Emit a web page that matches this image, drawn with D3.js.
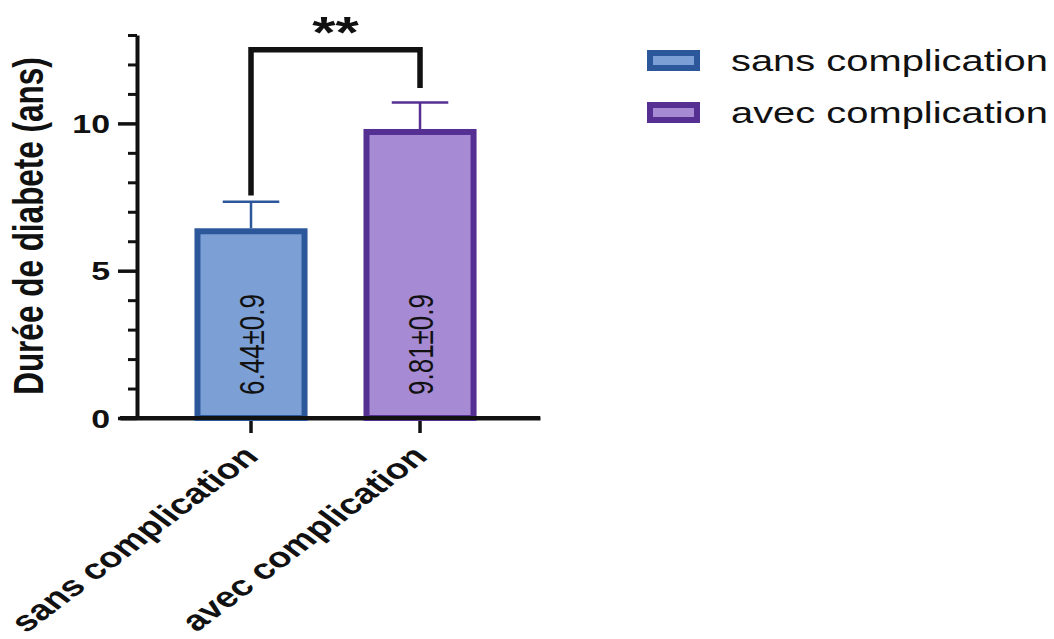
<!DOCTYPE html>
<html>
<head>
<meta charset="utf-8">
<script src="https://cdn.jsdelivr.net/npm/d3@7/dist/d3.min.js"></script>
<style>
  html, body { margin: 0; padding: 0; background: #ffffff; }
  svg { display: block; }
  text { font-family: "Liberation Sans", Arial, Helvetica, sans-serif; fill: #111; }
</style>
</head>
<body>
<svg id="chart" width="1054" height="639"></svg>
<script>
// Data
const categories = ["sans complication", "avec complication"];
const means = [6.44, 9.81];
const errors = [0.9, 0.9];
const valueLabels = ["6.44±0.9", "9.81±0.9"];
const fillColors = ["#7ca0d6", "#a68ad3"];
const strokeColors = ["#2c589b", "#552f91"];
const yMajorTicks = [0, 5, 10];
const yMinorTicks = [1, 2, 3, 4, 6, 7, 8, 9, 11, 12, 13];
const yLabel = "Durée de diabete (ans)";
const significance = "**";
// Bracket levels (in years): left leg end, right leg end, top bar
const bracketLevels = [7.55, 11.2, 12.5];

// Text is drawn wide (horizontal stretch) to follow the figure's aspect
const SX = 1.33;

const svg = d3.select("#chart");

const y = d3.scaleLinear().domain([0, 13]).range([418, 35]);
const x = d3.scaleBand()
  .domain(categories)
  .range([120, 540])
  .paddingInner(0.331)
  .paddingOuter(0.408)
  .align(0.54);

const cx = d => x(d) + x.bandwidth() / 2;

// Y axis: minor ticks
svg.append("g")
  .attr("transform", "translate(137,0)")
  .call(d3.axisLeft(y).tickValues(yMinorTicks).tickSize(9).tickSizeOuter(0).tickFormat(""))
  .call(g => g.select(".domain").remove())
  .call(g => g.selectAll("line").attr("stroke", "#111").attr("stroke-width", 3));

// Y axis: major ticks with labels
svg.append("g")
  .attr("transform", "translate(137,0)")
  .call(d3.axisLeft(y).tickValues(yMajorTicks).tickSize(19).tickSizeOuter(0).tickPadding(8))
  .call(g => g.select(".domain").attr("stroke", "#111").attr("stroke-width", 4))
  .call(g => g.selectAll("line").attr("stroke", "#111").attr("stroke-width", 3.5))
  .call(g => g.selectAll("text")
    .attr("x", null)
    .attr("dy", "0.36em")
    .attr("transform", `translate(-27,0) scale(${SX},1)`)
    .attr("font-size", 25.5)
    .attr("font-weight", "bold")
    .attr("font-family", "Liberation Sans, Arial, sans-serif")
    .attr("fill", "#111"));

// X axis
svg.append("g")
  .attr("transform", `translate(0,${y(0)})`)
  .call(d3.axisBottom(x).tickSize(15).tickSizeOuter(0).tickFormat(""))
  .call(g => g.select(".domain").attr("stroke", "#111").attr("stroke-width", 4))
  .call(g => g.selectAll("line").attr("stroke", "#111").attr("stroke-width", 3.5));

// Rotated category labels
svg.append("g")
  .selectAll("text")
  .data(categories)
  .join("text")
  .attr("transform", d => `translate(${cx(d) + 9},${y(0) + 40}) scale(${SX},1) rotate(-45)`)
  .attr("text-anchor", "end")
  .attr("font-size", 28.5)
  .attr("font-weight", "bold")
  .text(d => d);

// Error bars (drawn under the bars)
const errG = svg.append("g");
categories.forEach((c, i) => {
  const half = x.bandwidth() * 0.25;
  errG.append("line")
    .attr("x1", cx(c)).attr("x2", cx(c))
    .attr("y1", y(means[i])).attr("y2", y(means[i] + errors[i]))
    .attr("stroke", strokeColors[i]).attr("stroke-width", 2.5);
  errG.append("line")
    .attr("x1", cx(c) - half).attr("x2", cx(c) + half)
    .attr("y1", y(means[i] + errors[i])).attr("y2", y(means[i] + errors[i]))
    .attr("stroke", strokeColors[i]).attr("stroke-width", 2.5);
});

// Bars
svg.append("g")
  .selectAll("rect")
  .data(categories)
  .join("rect")
  .attr("x", d => x(d) + 3)
  .attr("width", x.bandwidth() - 6)
  .attr("y", (d, i) => y(means[i]) + 3)
  .attr("height", (d, i) => y(0) - y(means[i]) - 3)
  .attr("fill", (d, i) => fillColors[i])
  .attr("stroke", (d, i) => strokeColors[i])
  .attr("stroke-width", 6);

// Redraw the baseline over the bar bottoms
svg.append("line")
  .attr("x1", 120).attr("x2", 540)
  .attr("y1", y(0)).attr("y2", y(0))
  .attr("stroke", "#111").attr("stroke-width", 4);

// Value labels inside the bars
svg.append("g")
  .selectAll("text")
  .data(categories)
  .join("text")
  .attr("transform", d => `translate(${cx(d) + 1},${y(0) - 23}) scale(${SX},1) rotate(-90)`)
  .attr("text-anchor", "start")
  .attr("dy", "0.36em")
  .attr("font-size", 26)
  .text((d, i) => valueLabels[i]);

// Significance bracket
const bx1 = cx(categories[0]), bx2 = cx(categories[1]);
svg.append("path")
  .attr("d", d3.line()([
    [bx1, y(bracketLevels[0])],
    [bx1, y(bracketLevels[2])],
    [bx2, y(bracketLevels[2])],
    [bx2, y(bracketLevels[1])]
  ]))
  .attr("fill", "none")
  .attr("stroke", "#111")
  .attr("stroke-width", 5.5)
  .attr("stroke-linejoin", "miter");

svg.append("text")
  .attr("transform", `translate(${(bx1 + bx2) / 2},48) scale(${SX},1)`)
  .attr("text-anchor", "middle")
  .attr("font-size", 45)
  .attr("font-weight", "bold")
  .text(significance);

// Y axis title
svg.append("text")
  .attr("transform", `translate(28,226) scale(${SX},1) rotate(-90)`)
  .attr("text-anchor", "middle")
  .attr("dy", "0.36em")
  .attr("font-size", 31.5)
  .attr("font-weight", "bold")
  .text(yLabel);

// Legend
const legend = svg.append("g");
categories.forEach((c, i) => {
  const ly = 60.5 + i * 52;
  legend.append("rect")
    .attr("x", 650).attr("y", ly - 7.5)
    .attr("width", 47).attr("height", 15)
    .attr("fill", fillColors[i])
    .attr("stroke", strokeColors[i])
    .attr("stroke-width", 6);
  legend.append("text")
    .attr("transform", `translate(731,${ly + 10.5}) scale(${SX},1)`)
    .attr("font-size", 30)
    .text(c);
});
</script>
</body>
</html>
